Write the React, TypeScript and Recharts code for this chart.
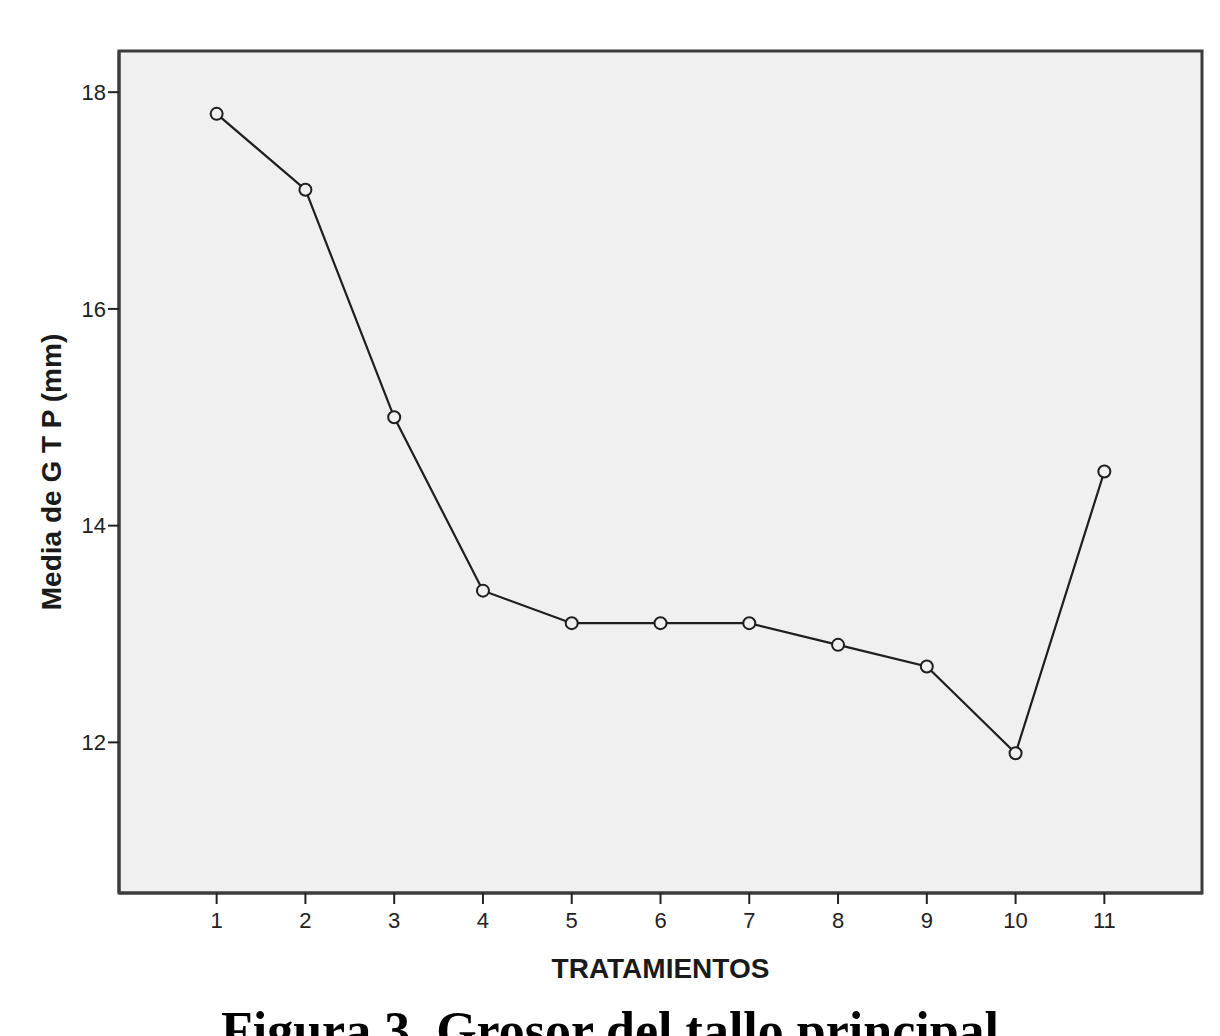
import { Line, LineChart, ReferenceArea, XAxis, YAxis } from 'recharts';

const TREATMENTS = [1, 2, 3, 4, 5, 6, 7, 8, 9, 10, 11];
const MEAN_GTP = [17.8, 17.1, 15.0, 13.4, 13.1, 13.1, 13.1, 12.9, 12.7, 11.9, 14.5];
const Y_TICKS = [12, 14, 16, 18];
const X_DOMAIN = [-0.1, 12.1];
const Y_DOMAIN = [10.61, 18.38];

const data = TREATMENTS.map((t, i) => ({ t, value: MEAN_GTP[i] }));

const SANS = '"Liberation Sans", Arial, sans-serif';
const FRAME = '#3c3c3c';

const YLabel = ({ viewBox }: any) => {
  const cx = 51;
  const cy = viewBox.y + viewBox.height / 2;
  return (
    <text
      x={cx}
      y={cy}
      transform={`rotate(-90, ${cx}, ${cy})`}
      textAnchor="middle"
      dominantBaseline="central"
      fontFamily={SANS}
      fontWeight="bold"
      fontSize={28}
      fill="#1a1a1a"
    >
      Media de G T P (mm)
    </text>
  );
};

const XLabel = ({ viewBox }: any) => (
  <text
    x={viewBox.x + viewBox.width / 2}
    y={978}
    textAnchor="middle"
    fontFamily={SANS}
    fontWeight="bold"
    fontSize={28}
    fill="#1a1a1a"
  >
    TRATAMIENTOS
  </text>
);

export default function App() {
  return (
    <div
      style={{
        position: 'fixed',
        left: 0,
        top: 0,
        width: 1220,
        height: 1036,
        overflow: 'hidden',
        background: '#fff',
      }}
    >
      <LineChart
        width={1220}
        height={1036}
        data={data}
        margin={{ top: 51, right: 18, bottom: 93, left: 49 }}
      >
        {/* plot background + frame */}
        <ReferenceArea
          x1={X_DOMAIN[0]}
          x2={X_DOMAIN[1]}
          y1={Y_DOMAIN[0]}
          y2={Y_DOMAIN[1]}
          fill="#f0f0f0"
          fillOpacity={1}
          stroke={FRAME}
          strokeWidth={3}
          ifOverflow="visible"
        />
        <XAxis
          dataKey="t"
          type="number"
          domain={X_DOMAIN}
          ticks={TREATMENTS}
          interval={0}
          height={50}
          tickSize={11}
          tickMargin={8}
          axisLine={{ stroke: FRAME, strokeWidth: 3 }}
          tickLine={{ stroke: '#222', strokeWidth: 2 }}
          tick={{ fontSize: 22, fontFamily: SANS, fill: '#222' }}
          label={<XLabel />}
        />
        <YAxis
          type="number"
          domain={Y_DOMAIN}
          ticks={Y_TICKS}
          interval={0}
          width={70}
          tickSize={11}
          tickMargin={2}
          axisLine={{ stroke: FRAME, strokeWidth: 3 }}
          tickLine={{ stroke: '#222', strokeWidth: 2 }}
          tick={{ fontSize: 22, fontFamily: SANS, fill: '#222' }}
          label={<YLabel />}
        />
        <Line
          dataKey="value"
          type="linear"
          stroke="#1e1e1e"
          strokeWidth={2.2}
          dot={{ r: 6, stroke: '#1e1e1e', strokeWidth: 2, fill: '#f0f0f0' }}
          isAnimationActive={false}
        />
      </LineChart>
      <div
        style={{
          position: 'absolute',
          left: 0,
          width: 1220,
          top: 1001,
          textAlign: 'center',
          fontFamily: '"Liberation Serif", "Times New Roman", serif',
          fontWeight: 'bold',
          fontSize: 52,
          lineHeight: '60px',
          color: '#000',
          whiteSpace: 'nowrap',
        }}
      >
        Figura 3. Grosor del tallo principal
      </div>
    </div>
  );
}
